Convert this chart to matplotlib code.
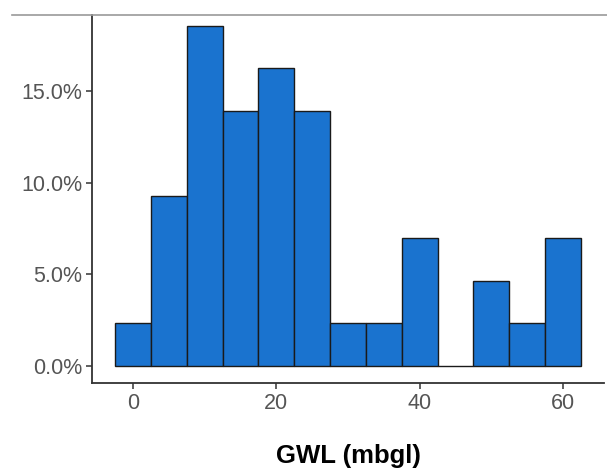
import matplotlib
matplotlib.use("Agg")
import matplotlib.pyplot as plt
from matplotlib.ticker import FuncFormatter
from matplotlib.lines import Line2D

# Histogram of groundwater level (counts per 5 m bin, n = 43)
bin_centers = [0, 5, 10, 15, 20, 25, 30, 35, 40, 45, 50, 55, 60]
counts = [1, 4, 8, 6, 7, 6, 1, 1, 3, 0, 2, 1, 3]
total = sum(counts)
percent = [c / total * 100 for c in counts]
x_ticks = [0, 20, 40, 60]
y_ticks = [0, 5, 10, 15]
x_label = "GWL (mbgl)"

plt.rcParams['font.family'] = ['Liberation Sans', 'DejaVu Sans']

fig = plt.figure(figsize=(6.07, 4.69), dpi=100)
ax = fig.add_axes([92/607, 1 - 383/469, (604-92)/607, (383-15)/469])

ax.bar(bin_centers, percent, width=5, color='#1a73cf', edgecolor='#1a1a1a',
       linewidth=1.0, align='center')

ax.set_xlim(-5.75, 65.75)
ax.set_ylim(-0.93, 19.18)
ax.set_xticks(x_ticks)
ax.set_yticks(y_ticks)
ax.yaxis.set_major_formatter(FuncFormatter(lambda v, p: f"{v:.1f}%"))

for s in ['top', 'right']:
    ax.spines[s].set_visible(False)
for s in ['left', 'bottom']:
    ax.spines[s].set_color('#333333')
    ax.spines[s].set_linewidth(1.3)

ax.tick_params(axis='both', colors='#333333', length=4, width=1.1,
               labelsize=15.5, labelcolor='#555555', pad=3)

ax.set_xlabel(x_label, fontsize=18.5, fontweight='bold', color='black', labelpad=22)

# thin grey rule across the top of the panel
fig.add_artist(Line2D([12/607, 1], [1 - 15/469, 1 - 15/469], color='#9a9a9a',
                      linewidth=1.2, transform=fig.transFigure))

fig.savefig("out.png", dpi=100)
